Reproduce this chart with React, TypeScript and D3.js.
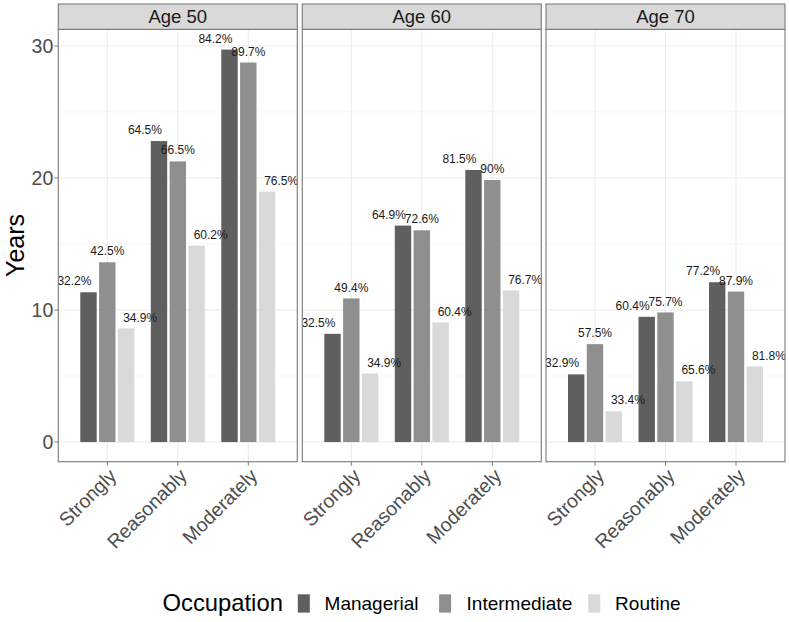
import React from "react";
import * as d3 from "d3";

const ages = ["Age 50", "Age 60", "Age 70"];
const categories = ["Strongly", "Reasonably", "Moderately"];
const occupations = ["Managerial", "Intermediate", "Routine"];

// values ordered: Age 50 (Strongly, Reasonably, Moderately), Age 60 (...), Age 70 (...)
const managerialYears = [11.39, 22.84, 29.77, 8.24, 16.44, 20.65, 5.17, 9.53, 12.15];
const intermediateYears = [13.66, 21.3, 28.79, 10.92, 16.08, 19.89, 7.46, 9.86, 11.44];
const routineYears = [8.65, 14.92, 19.01, 5.24, 9.1, 11.52, 2.37, 4.64, 5.77];

const managerialPct = ["32.2%", "64.5%", "84.2%", "32.5%", "64.9%", "81.5%", "32.9%", "60.4%", "77.2%"];
const intermediatePct = ["42.5%", "66.5%", "89.7%", "49.4%", "72.6%", "90%", "57.5%", "75.7%", "87.9%"];
const routinePct = ["34.9%", "60.2%", "76.5%", "34.9%", "60.4%", "76.7%", "33.4%", "65.6%", "81.8%"];

const yTicks = [0, 10, 20, 30];
const yMinor = [5, 15, 25];

const fillColors = ["#5f5f5f", "#8f8f8f", "#d9d9d9"];

const FONT = "'Liberation Sans', Arial, Helvetica, sans-serif";

export default function App() {
  const W = 789;
  const H = 622;
  const panelLefts = [58.3, 302.3, 546];
  const panelW = 239;
  const stripTop = 4;
  const panelTop = 29.3;
  const panelBottom = 461.7;

  const series = [managerialYears, intermediateYears, routineYears];
  const pcts = [managerialPct, intermediatePct, routinePct];
  const maxV = d3.max(series.flat()) as number;
  const expand = maxV * 0.05;
  const y = d3.scaleLinear().domain([-expand, maxV + expand]).range([panelBottom, panelTop]);

  const colorScale = d3.scaleOrdinal<string, string>().domain(occupations).range(fillColors);

  const borderColor = "#7a7a7a";
  const gridColor = "#ebebeb";

  const legendKeyX = [297.8, 439.1, 588.3];
  const legendLabelX = [324.6, 466.6, 615.1];

  return (
    <svg
      width={W}
      height={H}
      style={{ position: "absolute", left: 0, top: 0, background: "#fff" }}
      fontFamily={FONT}
    >
      <defs>
        {ages.map((a, pi) => (
          <clipPath id={`clip${pi}`} key={a}>
            <rect x={panelLefts[pi]} y={panelTop} width={panelW} height={panelBottom - panelTop} />
          </clipPath>
        ))}
      </defs>
      <rect x={0} y={0} width={W} height={H} fill="#fff" />
      {ages.map((age, pi) => {
        const x0 = panelLefts[pi];
        const x = d3.scalePoint<string>().domain(categories).range([x0, x0 + panelW]).padding(0.695);
        const step = x.step();
        const barBand = d3
          .scaleBand<string>()
          .domain(occupations)
          .range([-0.4 * step, 0.4 * step]);
        const labelBand = d3
          .scaleBand<string>()
          .domain(occupations)
          .range([-0.7 * step, 0.7 * step]);
        const inset = 1.2;
        return (
          <g key={age}>
            {/* grid */}
            {yMinor.map((t) => (
              <line key={"mn" + t} x1={x0} x2={x0 + panelW} y1={y(t)} y2={y(t)} stroke="#f3f3f3" strokeWidth={0.7} />
            ))}
            {yTicks.map((t) => (
              <line key={"mj" + t} x1={x0} x2={x0 + panelW} y1={y(t)} y2={y(t)} stroke={gridColor} strokeWidth={1} />
            ))}
            {categories.map((c) => (
              <line key={"v" + c} x1={x(c)} x2={x(c)} y1={panelTop} y2={panelBottom} stroke={gridColor} strokeWidth={1} />
            ))}
            {/* bars */}
            {categories.map((c, ci) =>
              occupations.map((o, oi) => {
                const v = series[oi][pi * 3 + ci];
                const bx = (x(c) as number) + (barBand(o) as number);
                return (
                  <rect
                    key={c + o}
                    x={bx + inset}
                    y={y(v) + 0.6}
                    width={barBand.bandwidth() - 2 * inset}
                    height={y(0) - y(v) - 0.6}
                    fill={colorScale(o)}
                  />
                );
              })
            )}
            {/* labels */}
            <g clipPath={`url(#clip${pi})`}>
              {categories.map((c, ci) =>
                occupations.map((o, oi) => {
                  const v = series[oi][pi * 3 + ci];
                  const lx = (x(c) as number) + (labelBand(o) as number) + labelBand.bandwidth() / 2;
                  return (
                    <text
                      key={"l" + c + o}
                      x={lx}
                      y={y(v) - 6.3}
                      textAnchor="middle"
                      fontSize={12}
                      fill="#1a1a1a"
                    >
                      {pcts[oi][pi * 3 + ci]}
                    </text>
                  );
                })
              )}
            </g>
            {/* panel border */}
            <rect x={x0} y={panelTop} width={panelW} height={panelBottom - panelTop} fill="none" stroke={borderColor} strokeWidth={1.1} />
            {/* strip */}
            <rect x={x0} y={stripTop} width={panelW} height={panelTop - stripTop} fill="#d9d9d9" stroke={borderColor} strokeWidth={1.1} />
            <text x={x0 + panelW / 2} y={(stripTop + panelTop) / 2} dy="0.36em" textAnchor="middle" fontSize={18.5} fill="#1a1a1a">
              {age}
            </text>
            {/* x ticks */}
            {categories.map((c) => (
              <g key={"xt" + c}>
                <line x1={x(c)} x2={x(c)} y1={panelBottom} y2={panelBottom + 4} stroke={borderColor} strokeWidth={1} />
                <text
                  transform={`translate(${x(c)},${panelBottom + 5}) rotate(-45)`}
                  textAnchor="end"
                  dy="0.75em"
                  fontSize={19.5}
                  fill="#4d4d4d"
                >
                  {c}
                </text>
              </g>
            ))}
          </g>
        );
      })}
      {/* y axis */}
      {yTicks.map((t) => (
        <g key={"yt" + t}>
          <line x1={panelLefts[0] - 4} x2={panelLefts[0]} y1={y(t)} y2={y(t)} stroke={borderColor} strokeWidth={1} />
          <text x={panelLefts[0] - 5} y={y(t)} dy="0.36em" textAnchor="end" fontSize={19.5} fill="#4d4d4d">
            {t}
          </text>
        </g>
      ))}
      <text
        transform={`translate(23.5,${(panelTop + panelBottom) / 2}) rotate(-90)`}
        textAnchor="middle"
        fontSize={25}
        fill="#000"
      >
        Years
      </text>
      {/* legend */}
      <text x={162.5} y={611} fontSize={23.8} fill="#000">
        Occupation
      </text>
      {occupations.map((o, i) => (
        <g key={"lg" + o}>
          <rect x={legendKeyX[i]} y={594.3} width={12} height={18.3} fill={colorScale(o)} />
          <text x={legendLabelX[i]} y={610} fontSize={19} fill="#000">
            {o}
          </text>
        </g>
      ))}
    </svg>
  );
}
